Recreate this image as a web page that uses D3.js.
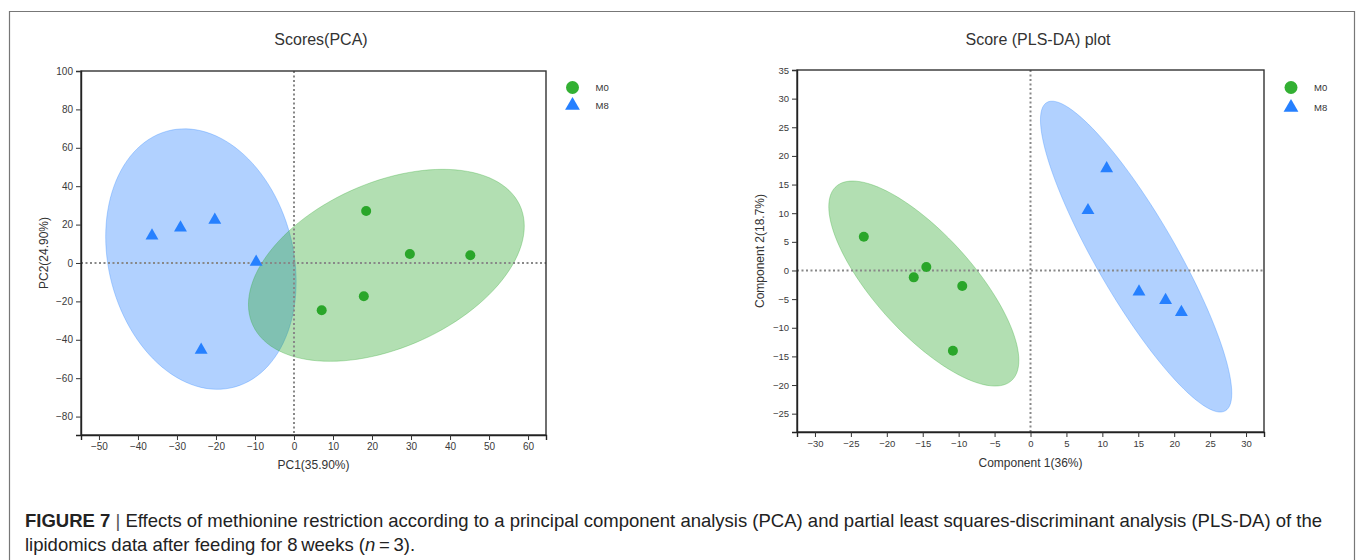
<!DOCTYPE html>
<html>
<head>
<meta charset="utf-8">
<script src="https://cdn.jsdelivr.net/npm/d3@7/dist/d3.min.js"></script>
<style>
  body { margin: 0; background: #fff; }
  text { font-family: "Liberation Sans", Arial, sans-serif; }
</style>
</head>
<body>
<svg id="fig"></svg>
<script>
// data
var groups = ["M0", "M8"];
var pcaM0x = [18.5, 29.7, 45.2, 17.9, 7.1];
var pcaM0y = [27.1, 4.7, 4.0, -17.3, -24.6];
var pcaM8x = [-36.4, -29.1, -20.3, -9.7, -23.8];
var pcaM8y = [14.2, 18.4, 22.4, 0.5, -45.3];
var plsM0x = [-23.2, -14.5, -16.25, -9.5, -10.8];
var plsM0y = [5.9, 0.6, -1.2, -2.7, -14.0];
var plsM8x = [10.6, 8.0, 15.1, 18.8, 21.0];
var plsM8y = [17.8, 10.5, -3.7, -5.2, -7.3];
var pcaXTicks = [-50, -40, -30, -20, -10, 0, 10, 20, 30, 40, 50, 60];
var pcaYTicks = [-80, -60, -40, -20, 0, 20, 40, 60, 80, 100];
var plsXTicks = [-30, -25, -20, -15, -10, -5, 0, 5, 10, 15, 20, 25, 30];
var plsYTicks = [-25, -20, -15, -10, -5, 0, 5, 10, 15, 20, 25, 30, 35];

var W = 1358, H = 560;
var green = "#2aa62a", blue = "#2680ff";
var CHI2 = 5.991; // 95% ellipse, 2 df

var svg = d3.select("#fig").attr("width", W).attr("height", H);
svg.append("rect").attr("width", W).attr("height", H).attr("fill", "#fff");

// outer frame
svg.append("path")
  .attr("d", "M9.5,570V11.5H1354.5V570")
  .attr("fill", "none").attr("stroke", "#777").attr("stroke-width", 1.2);

function zip(xs, ys) { return xs.map(function(x, i) { return [x, ys[i]]; }); }

function ellipsePts(pts) {
  var n = pts.length;
  var mx = d3.mean(pts, function(p) { return p[0]; });
  var my = d3.mean(pts, function(p) { return p[1]; });
  var sxx = 0, syy = 0, sxy = 0;
  pts.forEach(function(p) {
    sxx += (p[0] - mx) * (p[0] - mx);
    syy += (p[1] - my) * (p[1] - my);
    sxy += (p[0] - mx) * (p[1] - my);
  });
  sxx /= n - 1; syy /= n - 1; sxy /= n - 1;
  // cholesky
  var l11 = Math.sqrt(sxx), l21 = sxy / l11, l22 = Math.sqrt(syy - l21 * l21);
  var k = Math.sqrt(CHI2), out = [];
  for (var i = 0; i < 120; i++) {
    var t = i / 120 * 2 * Math.PI, c = Math.cos(t) * k, s = Math.sin(t) * k;
    out.push([mx + l11 * c, my + l21 * c + l22 * s]);
  }
  return out;
}

function panel(o) {
  var x = d3.scaleLinear().domain(o.xd).range([o.left, o.right]);
  var y = d3.scaleLinear().domain(o.yd).range([o.bottom, o.top]);
  var g = svg.append("g");

  g.append("text").attr("x", o.titleX).attr("y", 44.5)
    .attr("text-anchor", "middle").attr("font-size", 16).attr("fill", "#333")
    .text(o.title);

  var line = d3.line().x(function(d) { return x(d[0]); }).y(function(d) { return y(d[1]); })
    .curve(d3.curveLinearClosed);

  // ellipses: blue under green
  [[o.m8, blue], [o.m0, green]].forEach(function(e) {
    g.append("path").attr("d", line(ellipsePts(e[0])))
      .attr("fill", e[1]).attr("fill-opacity", 0.36)
      .attr("stroke", e[1]).attr("stroke-opacity", 0.3).attr("stroke-width", 1);
  });

  // zero lines
  g.append("line").attr("x1", x(0)).attr("x2", x(0)).attr("y1", o.top).attr("y2", o.bottom)
    .attr("stroke", "#888").attr("stroke-width", 2).attr("stroke-dasharray", "2,2.5");
  g.append("line").attr("x1", o.left).attr("x2", o.right).attr("y1", y(0)).attr("y2", y(0))
    .attr("stroke", "#888").attr("stroke-width", 2).attr("stroke-dasharray", "2,2.5");

  // points
  g.selectAll(".c").data(o.m0).enter().append("circle")
    .attr("cx", function(d) { return x(d[0]); }).attr("cy", function(d) { return y(d[1]); })
    .attr("r", 5).attr("fill", green);
  var tri = d3.symbol().type(d3.symbolTriangle).size(72);
  g.selectAll(".t").data(o.m8).enter().append("path")
    .attr("d", tri)
    .attr("transform", function(d) { return "translate(" + x(d[0]) + "," + y(d[1]) + ")"; })
    .attr("fill", blue);

  // frame
  g.append("rect").attr("x", o.left).attr("y", o.top)
    .attr("width", o.right - o.left).attr("height", o.bottom - o.top)
    .attr("fill", "none").attr("stroke", "#333").attr("stroke-width", 1.4);

  var ax = g.append("g").attr("transform", "translate(0," + o.bottom + ")")
    .call(d3.axisBottom(x).tickValues(o.xt).tickSize(5).tickPadding(3).tickFormat(d3.format("d")));
  var ay = g.append("g").attr("transform", "translate(" + o.left + ",0)")
    .call(d3.axisLeft(y).tickValues(o.yt).tickSize(5).tickPadding(3).tickFormat(d3.format("d")));
  [ax, ay].forEach(function(a) {
    a.select(".domain").attr("stroke", "#222").attr("stroke-width", 1.4);
    a.selectAll(".tick line").attr("stroke", "#333");
    a.selectAll(".tick text").attr("fill", "#3a3a3a").attr("font-size", o.tickSize)
      .attr("font-family", "Liberation Sans, Arial, sans-serif");
  });

  g.append("text").attr("x", (o.left + o.right) / 2).attr("y", o.xLabY)
    .attr("text-anchor", "middle").attr("font-size", 12).attr("fill", "#333").text(o.xLab);
  g.append("text").attr("transform", "translate(" + o.yLabX + "," + (o.top + o.bottom) / 2 + ") rotate(-90)")
    .attr("text-anchor", "middle").attr("font-size", 12).attr("fill", "#333").text(o.yLab);

  // legend
  var lg = g.append("g");
  lg.append("circle").attr("cx", o.legX).attr("cy", 87.5).attr("r", 6.5).attr("fill", "#33b033");
  lg.append("path").attr("d", d3.symbol().type(d3.symbolTriangle).size(95))
    .attr("transform", "translate(" + o.legX + "," + o.legY2 + ")").attr("fill", blue);
  lg.append("text").attr("x", o.legX + 23).attr("y", 90.5).attr("font-size", 9.5).attr("fill", "#333").text(groups[0]);
  lg.append("text").attr("x", o.legX + 23).attr("y", o.legY2 + 3).attr("font-size", 9.5).attr("fill", "#333").text(groups[1]);
}

panel({
  title: "Scores(PCA)", titleX: 321,
  left: 81, right: 546, top: 71, bottom: 435,
  xd: [-54.6, 64.6], yd: [-89.6, 100],
  xt: pcaXTicks, yt: pcaYTicks, tickSize: 10,
  m0: zip(pcaM0x, pcaM0y), m8: zip(pcaM8x, pcaM8y),
  xLab: "PC1(35.90%)", yLab: "PC2(24.90%)", xLabY: 469, yLabX: 48,
  legX: 572.5, legY2: 105.5
});

panel({
  title: "Score (PLS-DA) plot", titleX: 1038,
  left: 797, right: 1264, top: 70, bottom: 432,
  xd: [-32.5, 32.5], yd: [-28.2, 35],
  xt: plsXTicks, yt: plsYTicks, tickSize: 9.5,
  m0: zip(plsM0x, plsM0y), m8: zip(plsM8x, plsM8y),
  xLab: "Component 1(36%)", yLab: "Component 2(18.7%)", xLabY: 467, yLabX: 764,
  legX: 1291, legY2: 107.5
});

// caption, font size fitted so line 1 ends where the original does
var cap = svg.append("text").attr("x", 25).attr("y", 526.5).attr("font-size", 15).attr("fill", "#222");
cap.append("tspan").attr("font-weight", "bold").text("FIGURE 7");
cap.append("tspan").attr("fill", "#555").text(" | ");
cap.append("tspan").text("Effects of methionine restriction according to a principal component analysis (PCA) and partial least squares-discriminant analysis (PLS-DA) of the");
var fs = 15 * (1322 - 25) / cap.node().getComputedTextLength();
cap.attr("font-size", fs);
var cap2 = svg.append("text").attr("x", 25).attr("y", 550.5).attr("font-size", fs).attr("fill", "#222");
cap2.append("tspan").text("lipidomics data after feeding for 8\u2009weeks (");
cap2.append("tspan").attr("font-style", "italic").text("n");
cap2.append("tspan").text("\u2009=\u20093).");
</script>
</body>
</html>
